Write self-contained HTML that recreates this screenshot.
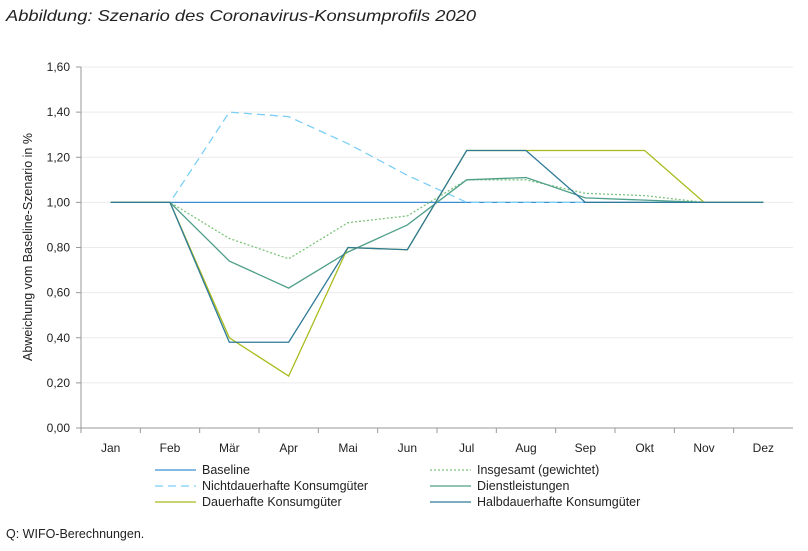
<!DOCTYPE html>
<html><head><meta charset="utf-8"><style>
body{margin:0;background:#fff;font-family:"Liberation Sans",sans-serif;}
svg text{font-family:"Liberation Sans",sans-serif;fill:#222;}
</style></head><body>
<svg width="808" height="546">
<text x="6" y="21" font-size="16" font-style="italic" fill="#333" textLength="470" lengthAdjust="spacingAndGlyphs">Abbildung: Szenario des Coronavirus-Konsumprofils 2020</text>
<g id="grid"></g><g id="axes"></g><g id="series"></g><g id="legend"></g>
<text transform="translate(32,247) rotate(-90)" text-anchor="middle" font-size="12.5">Abweichung vom Baseline-Szenario in %</text>
<text x="6" y="538" font-size="12.5">Q: WIFO-Berechnungen.</text>
</svg>
<script>
const months=["Jan","Feb","Mär","Apr","Mai","Jun","Jul","Aug","Sep","Okt","Nov","Dez"];
const yTicks=[0,0.2,0.4,0.6,0.8,1.0,1.2,1.4,1.6];
const baseline=[1,1,1,1,1,1,1,1,1,1,1,1];
const nichtdauer=[1,1,1.40,1.38,1.26,1.12,1.0,1.0,1.0,1.0,1.0,1.0];
const dauer=[1,1,0.40,0.23,0.80,0.79,1.23,1.23,1.23,1.23,1.0,1.0];
const halb=[1,1,0.38,0.38,0.80,0.79,1.23,1.23,1.0,1.0,1.0,1.0];
const dienst=[1,1,0.74,0.62,0.78,0.90,1.10,1.11,1.02,1.01,1.0,1.0];
const insg=[1,1,0.84,0.75,0.91,0.94,1.10,1.10,1.04,1.03,1.0,1.0];
const NS="http://www.w3.org/2000/svg";
const L=81,R=793,T=67,B=428;
const x=i=>L+(R-L)/months.length*(i+0.5);
const y=v=>B-(B-T)*v/1.6;
function mk(tag,attrs,parent){const e=document.createElementNS(NS,tag);for(const k in attrs)e.setAttribute(k,attrs[k]);document.getElementById(parent).appendChild(e);return e;}
yTicks.forEach(v=>{
 if(v>0){const g=mk('line',{x1:L,x2:R,y1:y(v),y2:y(v),stroke:'#ebebeb','stroke-width':1},'grid');
 
 }
 const t=mk('text',{x:L-11,y:y(v)+4,'text-anchor':'end','font-size':12},'axes');
 t.textContent=v.toFixed(2).replace('.',',');
 
 
 const tk=mk('line',{x1:L-5,x2:L,y1:y(v),y2:y(v),stroke:'#999'},'axes');
 
 
});
const ya=mk('line',{x1:L,x2:L,y1:T,y2:B,stroke:'#999'},'axes');


const xa=mk('line',{x1:L,x2:R,y1:B,y2:B,stroke:'#999'},'axes');


months.forEach((m,i)=>{
 const tk=mk('line',{x1:L+(R-L)/12*i,x2:L+(R-L)/12*i,y1:B,y2:B+5,stroke:'#999'},'axes');
 
 
 const t=mk('text',{x:x(i),y:B+24,'text-anchor':'middle','font-size':12},'axes');
 t.textContent=m;
 
 
});
const ser=[
 {n:'Baseline',d:baseline,c:'#3d8fd1',da:'',lx:155,ly:474},
 {n:'Nichtdauerhafte Konsumgüter',d:nichtdauer,c:'#7dcff5',da:'8,5',lx:155,ly:490},
 {n:'Dauerhafte Konsumgüter',d:dauer,c:'#a9bb1c',da:'',lx:155,ly:506},
 {n:'Insgesamt (gewichtet)',d:insg,c:'#7dc47d',da:'2,2',lx:430,ly:474},
 {n:'Dienstleistungen',d:dienst,c:'#4f9f89',da:'',lx:430,ly:490},
 {n:'Halbdauerhafte Konsumgüter',d:halb,c:'#2f7a99',da:'',lx:430,ly:506}
];
const order=[0,1,3,4,2,5];
order.forEach(k=>{const s=ser[k];
 const p=mk('polyline',{points:s.d.map((v,i)=>x(i)+','+y(v)).join(' '),fill:'none',stroke:s.c,'stroke-width':1.3,'stroke-dasharray':s.da},'series');
 
 
});
ser.forEach(s=>{
 const l=mk('line',{x1:s.lx,x2:s.lx+41,y1:s.ly-4,y2:s.ly-4,stroke:s.c,'stroke-width':1.3,'stroke-dasharray':s.da},'legend');
 
 
 const t=mk('text',{x:s.lx+47,y:s.ly,'font-size':12.5},'legend');
 t.textContent=s.n;
 
 
});
</script>
</body></html>
